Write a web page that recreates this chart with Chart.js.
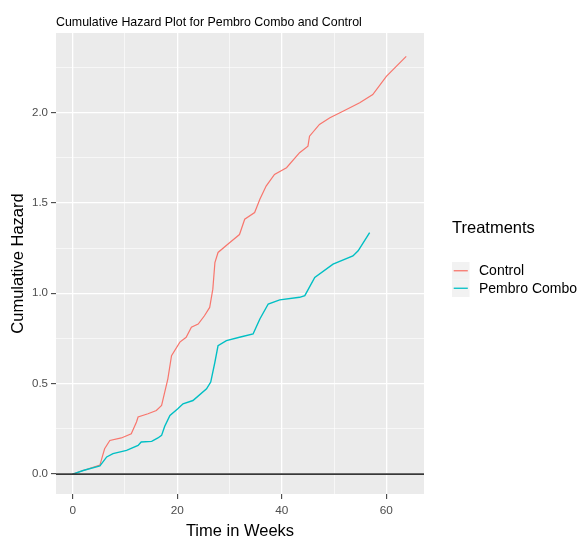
<!DOCTYPE html>
<html>
<head>
<meta charset="utf-8">
<script src="https://cdn.jsdelivr.net/npm/chart.js@4"></script>
<style>
  body { margin: 0; background: #fff; }
  #wrap { width: 579px; height: 537px; }
</style>
</head>
<body>
<div id="wrap"><canvas id="chart" width="579" height="537"></canvas></div>
<script>
const controlWeeks = [0, 2, 5.2, 6.1, 7.1, 9.3, 11.2, 12.2, 12.5, 14.4, 16.0, 17.0, 17.6, 18.2, 18.9, 20.5, 21.7, 22.7, 24.0, 25.2, 26.2, 26.8, 27.2, 27.8, 30.0, 31.9, 32.9, 34.8, 35.8, 37.0, 38.6, 40.9, 43.4, 45.0, 45.3, 47.2, 49.2, 51.7, 54.9, 57.4, 60.0, 63.8];
const controlHazard = [0, 0.02, 0.05, 0.14, 0.186, 0.2, 0.223, 0.288, 0.316, 0.334, 0.352, 0.38, 0.454, 0.527, 0.655, 0.73, 0.757, 0.812, 0.83, 0.876, 0.922, 1.023, 1.17, 1.226, 1.28, 1.325, 1.41, 1.447, 1.52, 1.593, 1.658, 1.695, 1.778, 1.814, 1.869, 1.934, 1.971, 2.007, 2.054, 2.099, 2.2, 2.311];

const pembroWeeks = [0, 2, 5.2, 6.5, 7.7, 10.3, 12.5, 13.1, 15.1, 16.3, 17.0, 17.6, 18.6, 20.1, 21.1, 23.0, 25.6, 26.4, 27.2, 27.8, 29.4, 31.9, 34.5, 35.8, 37.4, 39.6, 43.4, 44.4, 46.3, 49.8, 53.6, 54.6, 56.8];
const pembroHazard = [0, 0.02, 0.045, 0.095, 0.113, 0.131, 0.159, 0.178, 0.181, 0.2, 0.214, 0.265, 0.324, 0.361, 0.389, 0.407, 0.472, 0.509, 0.619, 0.711, 0.738, 0.757, 0.775, 0.858, 0.941, 0.964, 0.978, 0.987, 1.088, 1.161, 1.207, 1.235, 1.336];

const seriesNames = ['Control', 'Pembro Combo'];
const seriesColors = ['#F8766D', '#00BFC4'];
const refLineWeeks = [-3.2, 67.2];
const refLineHazard = [0, 0];

const FONT = '"Liberation Sans", Arial, sans-serif';

function toPoints(xs, ys) {
  return xs.map((x, i) => ({ x, y: ys[i] }));
}

const isMajorX = v => Math.abs(v % 20) < 1e-6;
const isMajorY = v => Math.abs(v / 0.5 - Math.round(v / 0.5)) < 1e-6;

const panelBg = {
  id: 'panelBg',
  beforeDraw(chart) {
    const { ctx, chartArea: a } = chart;
    ctx.save();
    ctx.fillStyle = '#EBEBEB';
    ctx.fillRect(a.left, a.top, a.right - a.left, a.bottom - a.top);
    ctx.restore();
  }
};

// ggplot style legend on the right
const sideLegend = {
  id: 'sideLegend',
  afterDraw(chart) {
    const ctx = chart.ctx;
    ctx.save();
    ctx.fillStyle = '#000';
    ctx.textBaseline = 'middle';
    ctx.textAlign = 'left';
    ctx.font = '16.5px ' + FONT;
    ctx.fillText('Treatments', 452, 228);
    ctx.font = '14px ' + FONT;
    seriesNames.forEach((name, i) => {
      const top = 262 + i * 17.5;
      ctx.fillStyle = '#F2F2F2';
      ctx.fillRect(452, top, 17.5, 17.5);
      ctx.strokeStyle = seriesColors[i];
      ctx.lineWidth = 1.3;
      ctx.beginPath();
      ctx.moveTo(453.7, top + 8.75);
      ctx.lineTo(467.8, top + 8.75);
      ctx.stroke();
      ctx.fillStyle = '#000';
      ctx.fillText(name, 479, top + 9.5);
    });
    ctx.restore();
  }
};

new Chart(document.getElementById('chart'), {
  type: 'line',
  data: {
    datasets: [
      {
        label: seriesNames[0],
        data: toPoints(controlWeeks, controlHazard),
        borderColor: seriesColors[0],
        borderWidth: 1.2,
        pointRadius: 0,
        tension: 0,
        order: 2
      },
      {
        label: seriesNames[1],
        data: toPoints(pembroWeeks, pembroHazard),
        borderColor: seriesColors[1],
        borderWidth: 1.4,
        pointRadius: 0,
        tension: 0,
        order: 1
      },
      {
        label: 'zero',
        data: toPoints(refLineWeeks, refLineHazard),
        borderColor: '#383838',
        borderWidth: 1.8,
        pointRadius: 0,
        order: 0
      }
    ]
  },
  options: {
    responsive: false,
    animation: false,
    devicePixelRatio: 1,
    layout: { padding: { left: 0, top: 0, right: 155, bottom: 0 } },
    plugins: {
      legend: { display: false },
      tooltip: { enabled: false },
      title: {
        display: true,
        fullSize: false,
        align: 'start',
        text: 'Cumulative Hazard Plot for Pembro Combo and Control',
        color: '#000',
        font: { family: FONT, size: 12.4, weight: 'normal', lineHeight: 1.2 },
        padding: { top: 15, bottom: 3.1 }
      }
    },
    scales: {
      x: {
        type: 'linear',
        min: -3.2,
        max: 67.2,
        afterFit: s => { s.height = 43; },
        border: { display: false },
        grid: {
          color: '#FFFFFF',
          lineWidth: c => isMajorX(c.tick.value) ? 1.3 : 0.6,
          tickLength: 5,
          tickWidth: 1,
          tickColor: c => isMajorX(c.tick.value) ? '#333333' : 'rgba(0,0,0,0)'
        },
        ticks: {
          stepSize: 10,
          includeBounds: false,
          autoSkip: false,
          maxRotation: 0,
          minRotation: 0,
          padding: 5,
          color: '#4D4D4D',
          font: { family: FONT, size: 11.8 },
          callback: v => isMajorX(v) ? String(v) : ''
        },
        title: {
          display: true,
          text: 'Time in Weeks',
          color: '#000',
          font: { family: FONT, size: 16.5, lineHeight: 0.72 },
          padding: { top: 0, bottom: 0 }
        }
      },
      y: {
        type: 'linear',
        min: -0.11,
        max: 2.44,
        afterFit: s => { s.width = 56; },
        border: { display: false },
        grid: {
          color: '#FFFFFF',
          lineWidth: c => isMajorY(c.tick.value) ? 1.3 : 0.6,
          tickLength: 5,
          tickWidth: 1,
          tickColor: c => isMajorY(c.tick.value) ? '#333333' : 'rgba(0,0,0,0)'
        },
        ticks: {
          stepSize: 0.25,
          includeBounds: false,
          autoSkip: false,
          padding: 3,
          color: '#4D4D4D',
          font: { family: FONT, size: 11.5 },
          callback: v => isMajorY(v) ? v.toFixed(1) : ''
        },
        title: {
          display: true,
          text: 'Cumulative Hazard',
          color: '#000',
          font: { family: FONT, size: 16.5, lineHeight: 1.2 },
          padding: { top: 8.4, bottom: 0 }
        }
      }
    }
  },
  plugins: [panelBg, sideLegend]
});
</script>
</body>
</html>
